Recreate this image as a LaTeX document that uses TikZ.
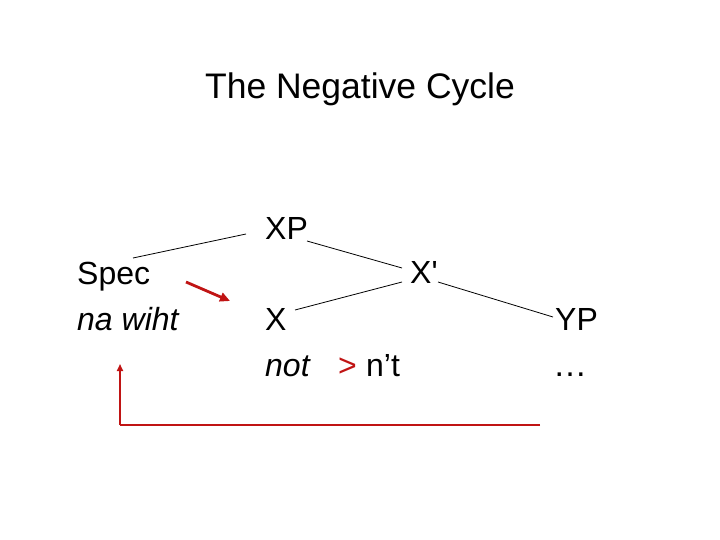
\documentclass[tikz,border=0pt]{standalone}
\usepackage{fontspec}
\setmainfont{Liberation Sans}
\usetikzlibrary{arrows.meta}
\definecolor{cycred}{RGB}{192,20,20}
\begin{document}
\begin{tikzpicture}[x=1pt,y=-1pt,
  lbl/.style={inner sep=0pt,anchor=base west,font=\fontsize{32}{36}\selectfont},
  branch/.style={draw=black,line width=0.8pt},
  redarrow/.style={draw=cycred,line width=2.8pt,-{Triangle[length=10pt,width=9pt]}},
  redline/.style={draw=cycred,line width=1.6pt}]
\useasboundingbox (0,0) rectangle (720,540);
\node[inner sep=0pt,anchor=base,font=\fontsize{35.5}{40}\selectfont] (title) at (360,99) {The Negative Cycle};
\node[lbl] (xp) at (265,240) {XP};
\node[lbl] (spec) at (77,284) {Spec};
\node[lbl] (nawiht) at (77,330) {\itshape na wiht};
\node[lbl] (xbar) at (410,283) {X\textquotesingle};
\node[lbl] (x) at (265,330) {X};
\node[lbl] (not) at (265,376) {\itshape not};
\node[lbl,text=cycred] (gt) at (338,376) {>};
\node[lbl] (nt) at (366,376) {n’t};
\node[lbl] (yp) at (555,330) {YP};
\node[lbl,font=\fontsize{34}{36}\selectfont] (dots) at (553,376) {…};
% branch endpoints
\coordinate (xpL) at (246,234);
\coordinate (specR) at (133,258);
\coordinate (xpR) at (307,241);
\coordinate (xbarUL) at (402,268);
\coordinate (xbarLL) at (402,282);
\coordinate (xR) at (295,310);
\coordinate (xbarR) at (438,282);
\coordinate (ypL) at (553,317);
\draw[branch] (xpL) -- (specR);
\draw[branch] (xpR) -- (xbarUL);
\draw[branch] (xbarLL) -- (xR);
\draw[branch] (xbarR) -- (ypL);
% red arrows
\coordinate (ra1) at (186,282);
\coordinate (ra2) at (230,301);
\draw[redarrow] (ra1) -- (ra2);
\coordinate (bR) at (540,425);
\coordinate (bL) at (120,425);
\coordinate (bT) at (120,364);
\draw[redline] (bR) -- (bL);
\draw[redline,-{Triangle[length=7pt,width=6pt]}] (bL) -- (bT);
\end{tikzpicture}
\end{document}
